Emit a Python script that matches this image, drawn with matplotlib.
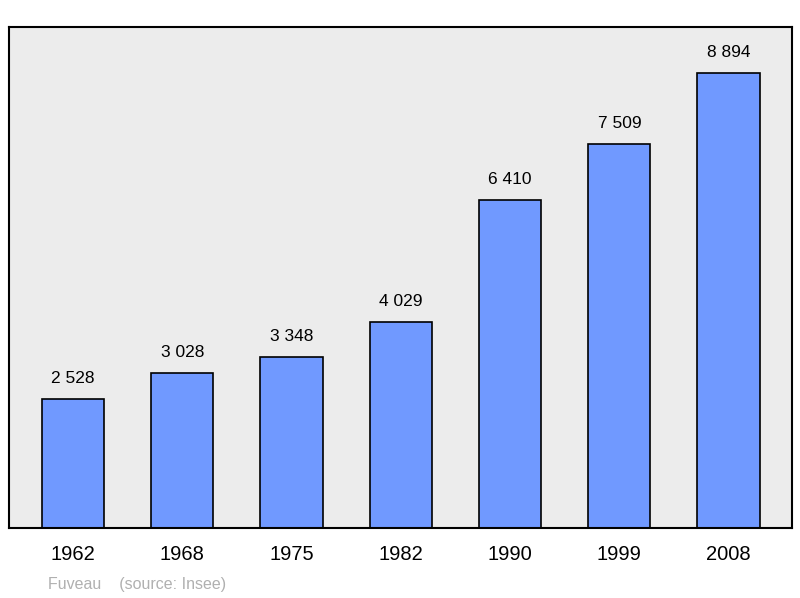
import matplotlib
matplotlib.use("Agg")
import matplotlib.pyplot as plt

years = ["1962", "1968", "1975", "1982", "1990", "1999", "2008"]
population = [2528, 3028, 3348, 4029, 6410, 7509, 8894]
value_labels = ["2 528", "3 028", "3 348", "4 029", "6 410", "7 509", "8 894"]

plt.rcParams['font.family'] = ['Liberation Sans', 'DejaVu Sans']

fig = plt.figure(figsize=(8, 5.98), dpi=100)
ax = fig.add_axes([9 / 800, 1 - 528 / 598, 783 / 800, 501 / 598])
ax.set_facecolor('#ececec')

x = list(range(len(years)))
ax.bar(x, population, width=0.57, color='#7099ff', edgecolor='black', linewidth=1.2)
for xi, v, lab in zip(x, population, value_labels):
    ax.text(xi, v + 250, lab, ha='center', va='bottom', fontsize=12.5)

ax.set_xlim(-0.585, 6.58)
ax.set_ylim(0, 9793)
ax.set_yticks([])
ax.set_xticks(x)
ax.set_xticklabels(years, fontsize=14.5)
ax.tick_params(axis='x', length=0, pad=12)
for s in ax.spines.values():
    s.set_linewidth(1.5)

fig.text(48 / 800, 1 - 584 / 598, "Fuveau    (source: Insee)", fontsize=11.5,
         color='#b0b0b0', va='center')

fig.savefig("out.png", dpi=100)
